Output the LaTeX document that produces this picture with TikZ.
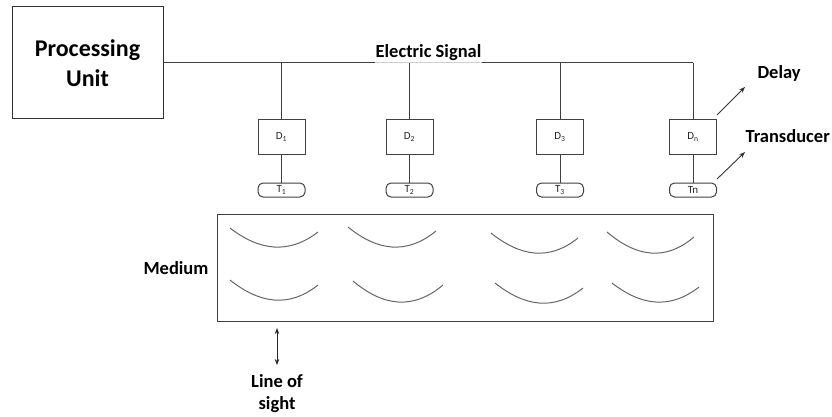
\documentclass[tikz,border=0pt]{standalone}
\usepackage{fontspec}
\setmainfont{Carlito}
\usetikzlibrary{arrows.meta,calc}
\begin{document}
\begin{tikzpicture}[x=1pt,y=-1pt,
 line/.style={draw=black!75, line width=1pt},
 dbox/.style={draw=black!75, line width=1pt, minimum width=47pt, minimum height=34pt, inner sep=0pt, font=\fontsize{11}{12}\selectfont, text=black!85},
 tbox/.style={draw=black!75, line width=1pt, rounded corners=5pt, minimum width=47pt, minimum height=14pt, inner sep=0pt, font=\fontsize{11}{12}\selectfont, text=black!85},
 lbl/.style={font=\bfseries\fontsize{18.5}{22}\selectfont, align=center},
 wave/.style={draw=black!60, line width=1pt},
 arr/.style={draw=black!80, line width=0.9pt, -{Stealth[length=6pt,width=4.5pt]}}]
\useasboundingbox (0,0) rectangle (832,417);
% processing unit
\node[draw=black!80, line width=1pt, minimum width=151pt, minimum height=112pt, align=center, inner sep=0pt, font=\bfseries\fontsize{24}{30}\selectfont] (pu) at (87.5,63) {Processing\\Unit};
% bus
\coordinate (bend) at (693,63);
\draw[line] (pu.east) -- (bend);
\node[lbl, fill=white, fill opacity=0.75, text opacity=1, inner xsep=1pt, inner ysep=0pt, text depth=7pt, anchor=base] (es) at (428.5,58) {Electric Signal};
% delays and transducers
\node[dbox] (d1) at (281.5,137) {D\textsubscript{1}};
\node[dbox] (d2) at (409.5,137) {D\textsubscript{2}};
\node[dbox] (d3) at (560,137) {D\textsubscript{3}};
\node[dbox] (dn) at (693,137) {D\textsubscript{n}};
\node[tbox] (t1) at (281.5,190) {T\textsubscript{1}};
\node[tbox] (t2) at (409.5,190) {T\textsubscript{2}};
\node[tbox] (t3) at (560,190) {T\textsubscript{3}};
\node[tbox] (tn) at (693,190) {Tn};
\foreach \n in {1,2,3,n}{
  \draw[line] (d\n.north |- bend) -- (d\n.north);
  \draw[line] (d\n.south) -- (t\n.north);
}
% labels with arrows
\node[lbl, anchor=west] (delay) at (754,73) {Delay};
\node[lbl, anchor=west] (trans) at (742,136) {Transducer};
\coordinate (da) at (717,115);
\coordinate (db) at (745,87);
\coordinate (ta) at (717,179);
\coordinate (tb) at (745,152);
\draw[arr] (da) -- (db);
\draw[arr] (ta) -- (tb);
% medium
\node[draw=black!75, line width=1pt, minimum width=496pt, minimum height=107pt, inner sep=0pt] (med) at (465,267.5) {};
\node[lbl, anchor=east] (medl) at (212,268) {Medium};
% waves
\foreach \ax/\ay/\cx/\cy/\by in {
  230/228/318/232/247, 348/227/436/231/247, 491/233/578/238/253, 607/232/694/237/253,
  230/280/318/285/300, 353/281/443/285/302, 495/283/583/288/303, 612/283/699/287/302}{
  \pgfmathsetmacro{\dd}{4/3*(\by-(\ay+\cy)/2)}
  \pgfmathsetmacro{\wx}{(\cx-\ax)/3}
  \draw[wave] (\ax,\ay) .. controls ($(\ax,\ay)+(\wx,\dd)$) and ($(\cx,\cy)+(-\wx,\dd)$) .. (\cx,\cy);
}
% line of sight
\coordinate (ls1) at (277,328);
\coordinate (ls2) at (277,365);
\draw[draw=black!85, line width=0.9pt, {Stealth[length=6pt,width=4.5pt]}-{Stealth[length=6pt,width=4.5pt]}] (ls1) -- (ls2);
\node[lbl] (los) at (277,394) {Line of\\sight};
\end{tikzpicture}
\end{document}
